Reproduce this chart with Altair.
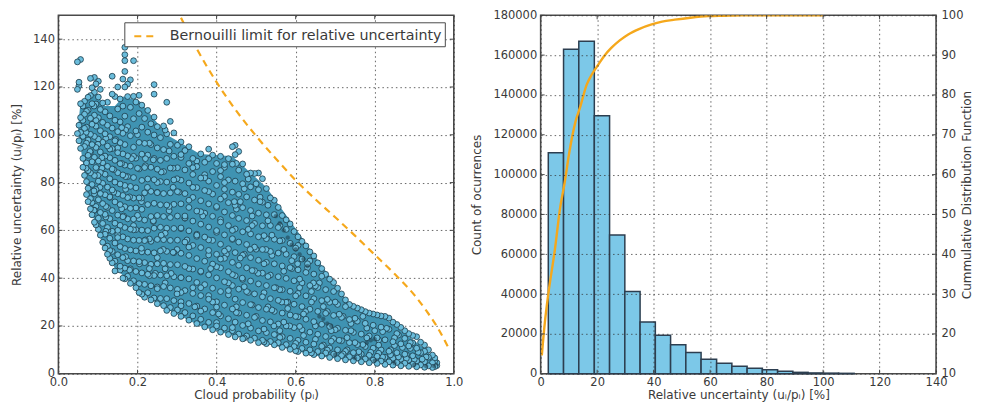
import altair as alt
import pandas as pd

# ---------- left panel ----------
env_p = [.05,.055,.063,.076,.093,.114,.143,.164,.206,.274,.358,.44,.526,.65,.737,.82,.93,.955]
env_low = [100,96,87,72,63,53,44,41,34,27,20,16,12.5,7.5,5.5,4,2.6,3]
env_high = [104,112,114,117,119,112,112,116,114,100,92,91,78,49,29,24,10,5]

cloud_columns = {
 .048:[130.5,119,100.5],
 .052:[122,120.5,104,97.5],
 .056:[131.5,113,107.2,101,94.3],
 .062:[112,106,99.3,90.1,86.4],
 .066:[114,108.6,102.7,95.1,83],
 .071:[109.8,103.2,96.5,88.2,80.4,75],
 .075:[115.7,110.3,97.8,91.4,85,77.6,72],
 .081:[123.6,116.4,106.9,100.2,92.7,84.1,73.3,69],
 .085:[119.7,113,104.4,95.9,88.7,79.2,71.6,66.5],
 .091:[124,117.8,108.2,99.3,90.6,82.9,75.3,68.4,63.4],
 .095:[121.3,112.9,103.6,94.7,86.3,77.1,70,62.3],
 .101:[122.4,115.8,107.1,98.2,89,80.6,72.8,65.1,60.4],
 .106:[119,110.6,101.7,92.8,84.2,75.4,67.5,58],
 .112:[113.3,105.2,96.9,88.3,79.7,71.2,62.9,55],
 .118:[109.6,100.4,91.1,83.5,74.9,66.7,58.4,52.6],
 .124:[113.6,104,95.3,86.8,78.1,69.6,61.2,53.4,50],
 .13:[107.9,99.2,90.4,81.6,73.8,64.9,56.7,48.3],
 .136:[124.5,117,102.8,94.2,85.7,76.9,68.3,59.6,51.2,46.4],
 .143:[116,106.1,97.5,89.3,80.2,71.9,63,54.7,47.1,43],
 .15:[120,110.8,101.3,92.5,84.1,75.3,66.4,58.2,49.8],
 .156:[115,105.4,96.7,87.9,79.4,70.8,62.1,53.2,45,43.4],
 .163:[123.3,112,100.6,92,83.2,74.6,65.7,57.3,48.6,40],
 .168:[136.6,133.5,131,126.5,120,107.8,95.9,87.3,78.8,69.9,61.2,52.4,44.2,39.7],
 .175:[121.2,116,103.4,91.2,82.5,73.7,64.8,56.4,47.3,40.8],
 .182:[123,111.5,99.6,86.9,78.4,69.2,60.5,51.8,43.9,37.8],
 .19:[131,116.1,106.7,94.8,82.1,73.5,64.7,55.9,47.2,38.9],
 .196:[113.7,101.6,90.2,77.8,69.4,60.3,51.4,42.8,36],
 .204:[116.5,108.9,96.8,85.7,73.6,64.9,55.8,46.9,37.7,34],
 .211:[112.4,103.2,91.9,80.9,68.8,60.1,51,42.2,33.3],
 .218:[106.8,96.4,86.3,75.7,64.3,55.7,46.5,37.4,32],
 .226:[110.2,101.1,91.5,81.5,70.8,59.9,50.9,41.6,33.9],
 .234:[104.6,95.9,86.4,76.3,65.8,55.4,45.8,36.8,30.9],
 .242:[121,117,107.4,99.9,90.1,81.2,71.3,60.9,50.6,41.1,31.7],
 .25:[103.4,94.5,85.6,75.9,66.2,56.2,46,36.3,29.3],
 .258:[98.8,89.3,80.4,70.7,61.3,51.4,41.3,31.5],
 .266:[103.7,93.8,84.6,75.4,65.8,56.1,46.2,36.5,28.5],
 .274:[113.6,100.4,90.1,80.2,70.6,60.9,51.2,41,31.4,26.5],
 .283:[105.6,96,86.1,75.7,65.4,55.8,45.7,35.9,27.7],
 .292:[100.8,91,81.1,70.9,60.8,50.7,40.6,30.6,25.2],
 .301:[95.6,86.2,76.2,66,55.9,45.6,35.3,26.7],
 .31:[97,90.5,81,71.1,60.7,50.4,40.2,30.1,24],
 .32:[93.4,85.3,75.4,65.2,55.1,44.9,34.8,25.6],
 .33:[95,88,79.8,69.6,59.8,49.5,39.7,29.4,22.4],
 .34:[90.1,83.4,73.8,63.9,53.7,43.8,33.6,24.2],
 .35:[86.7,77.9,68.1,58.4,48.2,38.2,28.3,21],
 .36:[92,81.9,72.4,62.6,52.8,42.9,32.7,22.8],
 .37:[88.5,76.7,67.2,57.2,47.1,37.3,27.1,19.6],
 .38:[90,80.6,71.1,61.4,51.6,41.4,31.2,21.5],
 .39:[91.5,84.6,75.2,65.9,55.8,45.9,35.8,25.6,18.4],
 .4:[88,78.8,69.6,59.9,50,40.1,30.1,20],
 .41:[91,82.5,73.1,63.5,54.2,44.3,34.4,24.2,17.4],
 .42:[86.4,77.2,67.7,58.1,48.3,38.5,28.7,19.1],
 .43:[90,81.1,71.6,62,52.3,42.7,33,23,16.4],
 .44:[95,87.7,76,66.2,56.5,46.6,36.9,27.1,18],
 .447:[95.6,91.7,80.6,70.5,60.6,50.7,41,31.2,21.6,15.4],
 .456:[93,85.2,75.1,65,55.1,45.4,35.4,25.4,16.6],
 .466:[87.8,79.5,69.5,59.4,49.6,39.5,29.8,20.2,14.6],
 .476:[83.5,74,64.1,54.1,44.3,34.4,24.5,15.8],
 .486:[84,78.2,68.3,58.5,48.6,38.8,28.9,19.1,14],
 .496:[83.8,72.7,62.9,53,43.1,33.4,23.6,14.9],
 .506:[84,77,67.2,57.3,47.5,37.6,27.7,17.9,13],
 .516:[81.6,71.8,61.9,52,42.1,32.2,22.3,14],
 .526:[77.5,66.5,56.5,46.6,36.9,27,17.2,12.6],
 .536:[73.6,62,51.2,41.3,31.4,21.7,13.5],
 .546:[72.6,66.6,56.3,46,36,26.1,16.4,12.1],
 .556:[69.6,61.2,50.5,40.6,30.7,20.8,13],
 .566:[66.2,55.8,45.1,35.2,25.4,15.5,11],
 .576:[64.4,60.4,50,39.9,29.9,20,12.2],
 .586:[62.7,54.6,44.4,34.5,24.6,14.8,10.2],
 .596:[59.5,49,38.9,29.1,19.3,11.4],
 .606:[57.3,53.7,43.5,33.6,23.8,14,9.3],
 .616:[55.4,48,38,28.1,18.4,10.6],
 .626:[53.5,42.4,32.6,22.8,13.2,8.6],
 .636:[51,47.2,36.9,27,17.4,10],
 .646:[49.3,41.7,31.4,21.8,12.4,8],
 .656:[46.4,36.1,26.1,16.5,9.3],
 .666:[44,40.8,30.6,20.7,11.5,7.4],
 .676:[41.6,35.2,25.3,15.6,8.7],
 .686:[39.6,29.9,19.8,10.8,6.8],
 .696:[38.2,34.4,24.4,14.7,8.2],
 .706:[35.8,29,19,10,6.3],
 .716:[33.4,23.6,13.8,7.6],
 .726:[30.9,28.1,18.2,9.4,5.8],
 .736:[29,22.7,13,7.1],
 .746:[28.2,17.3,8.8,5.4],
 .756:[27.5,22,12.2,6.6],
 .766:[26.8,16.6,8.2,5],
 .776:[26,21.1,11.4,6.2],
 .786:[25.4,15.8,7.7,4.6],
 .796:[25,20.3,10.7,5.7],
 .806:[24.6,15,7.3,4.3],
 .816:[24.2,19.5,10,5.3],
 .826:[24,14.2,6.9,3.9],
 .836:[23.3,18.6,9.4,5],
 .846:[21.6,13.4,6.5,3.6],
 .856:[20.6,16.8,8.8,4.7],
 .866:[19.4,12.5,6.1,3.3],
 .876:[18,14.8,8.2,4.4],
 .886:[16.8,11.6,5.7,3.1],
 .896:[16,12.9,7.5,4],
 .906:[15.5,10.7,5.3,2.9],
 .916:[13.2,8.8,3.7],
 .926:[12,9.4,5,2.7],
 .936:[10,6.9,3.3],
 .946:[7.8,4.6,2.6],
 .952:[6.6,5.4,3.6,3],
 .957:[4.6,3.4],
}
extra_p = [.09,.1,.11,.12,.13,.14,.15,.16,.17,.18,.19,.2,.21,.22,.22,.23,.24,.25,.26,.27,.28,.29,.3,.31,.32,.33,.34,.35,.36,.37,.38,.39,.4,.41,.42,.43,.44,.45,.46,.47,.48,.49,.5,.51,.52,.53,.54,.55,.56,.57,.58,.59,.6,.61,.62,.63,.64,.65,.66,.67,.68,.69,.7,.71,.72,.73,.74,.75,.76,.77,.78,.79,.8,.81,.82,.83,.84,.85,.86,.87,.88,.89,.9,.91,.93,
           .095,.105,.125,.145,.165,.185,.205,.225,.245,.265,.285,.305,.325,.345,.365,.385,.405,.425,.445,.465,.485,.505,.525,.545,.565,.585,.605,.625,.645,
           .07,.12,.16,.2,.23,.27, .08,.11,.15,.19,.24,.28,.31,.35,.38,.42, .07,.1,.14,.17,.22,.26,.3,.34,.37,.41,.45,.48,.5,
           .09,.13,.17,.21,.25,.29,.33,.38,.42,.47,.51,.53, .09,.12,.16,.2,.24,.28,.32,.36,.41,.45,.49,.53,.56,
           .12,.15,.19,.23,.27,.31,.35,.4,.44,.48,.52,.56,.6, .13,.17,.21,.25,.29,.33,.38,.42,.46,.5,.54,.59,.63,
           .18,.23,.27,.31,.36,.4,.44,.49,.53,.57,.61,.65, .25,.3,.34,.38,.43,.47,.52,.56,.6,.64,.68,
           .31,.36,.4,.45,.49,.54,.58,.62,.67,.71,.75, .4,.44,.48,.52,.57,.61,.65,.7,.74,.78,.82,.86,
           .47,.52,.56,.6,.65,.69,.73,.77,.81,.85,.89, .6,.64,.68,.72,.76,.81,.84,.88,.92]
extra_u = [112,96,86,70,94,76,60,88,102,74,62,86,72,90,56,44,64,80,58,38,70,86,52,34,66,44,78,58,36,82,56,30,70,48,80,38,60,28,72,50,34,62,24,72,46,28,58,36,18,52,30,44,24,36,16,46,30,20,38,12,26,18,30,14,24,10,18,13,8,24,15,9,18,12,7,19,10,15,7,11,8,13,6,9,7,
           106,78,60,98,66,90,46,78,42,52,42,76,56,28,66,44,25,50,72,40,52,42,52,20,30,20,46,26,38,
           101,98.5,103,100,96.5,102, 93,90.4,94.5,91,89.5,93.2,91.7,89,94,87.5, 86,83,85.4,82.5,87,84.4,81.6,86.2,83.3,85,88,81.5,79.5,
           76.5,74,77.2,73.5,75.8,78,72.6,76.2,74.3,77.4,73.9,70.5, 68.4,65.6,69,66.3,63.7,68.2,65.1,67.8,64.5,68.9,66,64,62,
           59.6,57,60.2,56.4,58.8,61,57.5,59.2,56.2,60.4,57.8,55.6,52.6, 51.6,49,52.5,48.6,50.8,53,49.7,51.3,48.4,52.1,49.5,47.3,44.4,
           43.4,41,43.9,40.2,42.6,44.8,41.5,43.2,40.7,42.9,39.6,36.7, 35.6,33.4,36,32.7,34.8,36.4,33.9,35.2,32.6,34.4,31.1,
           28.4,26.2,27.9,25.6,28.8,26.7,27.3,25,28.1,24.9,23.2, 21.4,19.3,20.9,18.7,21.6,19.8,20.3,18.4,21,19.1,17.6,16.2,
           14.9,13.3,15.2,12.7,14.4,13.6,15.1,12.2,14.1,11.8,10.6, 9.6,8.7,9.9,8.3,9.2,8.6,7.9,6.4,6.1]
streak_p = [.55,.56,.57,.58,.59,.6,.61,.62,.63,.66,.67,.68,.69,.78,.79,.8,.7,.75,.8,.85,.9,.93,.95]
streak_u = [66,63,60,57,54,52,50,48,45,24,23,21,20,13,14,14.5,8,6.5,5.5,4.5,3.8,3.2,3.2]

bern_p = [.31,.35,.40,.45,.50,.55,.60,.65,.70,.75,.80,.85,.90,.93,.96,.99]
bern_u = [149,136,122,110,99.5,90,81,73,65.5,57.8,49.8,41.8,33,26.5,19,9.7]
legend_label = "Bernouilli limit for relative uncertainty"

p_ticks = [0, .2, .4, .6, .8, 1.0]
u_ticks = [0, 20, 40, 60, 80, 100, 120, 140]

# ---------- right panel ----------
bin_left = [2.7,8.1,13.5,19.0,24.4,29.8,35.2,40.6,46.0,51.4,56.8,62.3,67.7,73.1,78.5,83.9,89.3,94.7,100.1,105.5]
bin_right = [8.1,13.5,19.0,24.4,29.8,35.2,40.6,46.0,51.4,56.8,62.3,67.7,73.1,78.5,83.9,89.3,94.7,100.1,105.5,111.0]
bin_count = [111000,163000,167000,129500,69700,41300,26000,19300,14500,10700,7300,5300,3700,2800,2000,1200,700,400,300,200]
cdf_x = [0.4,1.5,2.7,5,6.9,8.5,10,12.4,14,16.3,18,20.4,22.5,25,28,31,35,39.3,43,47.5,53,59.3,65,71,100]
cdf_y = [14.6,23,30,41,51.7,58,65,73.5,77,82.6,85,87.6,89.8,91.8,93.7,95.2,96.6,97.7,98.4,98.9,99.4,99.8,99.9,100,100]
count_ticks = [0,20000,40000,60000,80000,100000,120000,140000,160000,180000]
pct_ticks = [10,20,30,40,50,60,70,80,90,100]
x2_ticks = [0,20,40,60,80,100,120,140]

W, H = 396, 359
INK = "#3a3a3a"
FRAME = "#4a4a4a"
TICK = 4

cloud = pd.DataFrame([(p, u) for p, us in cloud_columns.items() for u in us] + list(zip(extra_p, extra_u)),
                     columns=["p", "u"]).sort_values("p", ascending=False)
streak = pd.DataFrame({"p": streak_p, "u": streak_u})
env = pd.DataFrame({"p": env_p, "lo": env_low, "hi": env_high})
bern = pd.DataFrame({"p": bern_p, "u": bern_u, "s": legend_label})
xp = alt.Scale(domain=[0, 1], nice=False, zero=False, padding=0)
yu = alt.Scale(domain=[0, 150], nice=False, zero=False, padding=0)
xu = alt.Scale(domain=[0, 140], nice=False, zero=False, padding=0)
yn = alt.Scale(domain=[0, 180000], nice=False, zero=False, padding=0)
yc = alt.Scale(domain=[10, 100], nice=False, zero=False, padding=0)

ax_p = alt.Axis(values=p_ticks, format=".1f", title="Cloud probability (pᵢ)", grid=True, ticks=False, labelPadding=3, titlePadding=1, labelFlush=False)
ax_u = alt.Axis(values=u_ticks, title="Relative uncertainty (uᵢ/pᵢ) [%]", grid=True, ticks=False, titlePadding=9, labelPadding=4, labelFlush=False)
ax_x2 = alt.Axis(values=x2_ticks, title="Relative uncertainty (uᵢ/pᵢ) [%]", grid=True, ticks=False, zindex=1, labelPadding=3, titlePadding=1, labelFlush=False)

def rules_x(values, scale, axis):
    d = pd.DataFrame({"v": values})
    b = alt.Chart(d).mark_rule(color=FRAME, strokeWidth=1)
    return [b.encode(x=alt.X("v:Q", scale=scale, axis=axis), y=alt.value(H), y2=alt.value(H - TICK)),
            b.encode(x=alt.X("v:Q", scale=scale, axis=axis), y=alt.value(0), y2=alt.value(TICK))]

def rules_y(values, scale, axis, side="both"):
    d = pd.DataFrame({"v": values})
    b = alt.Chart(d).mark_rule(color=FRAME, strokeWidth=1)
    out = []
    if side in ("both", "left"):
        out.append(b.encode(y=alt.Y("v:Q", scale=scale, axis=axis), x=alt.value(0), x2=alt.value(TICK)))
    if side in ("both", "right"):
        out.append(b.encode(y=alt.Y("v:Q", scale=scale, axis=axis), x=alt.value(W), x2=alt.value(W - TICK)))
    return out

base_area = alt.Chart(env).mark_area(color="#3f93b2", interpolate="linear").encode(
    x=alt.X("p:Q", scale=xp, axis=ax_p),
    y=alt.Y("lo:Q", scale=yu, axis=ax_u),
    y2="hi:Q",
)
points = alt.Chart(cloud).mark_point(
    shape="circle", filled=True, size=34, fill="#6abcdb", stroke="#1b3a48", strokeWidth=0.8, opacity=1
).encode(x=alt.X("p:Q", scale=xp, axis=ax_p), y=alt.Y("u:Q", scale=yu, axis=ax_u))
dark = alt.Chart(streak).mark_point(
    shape="circle", filled=True, size=14, fill="#1f3f4d", stroke="#17323f", strokeWidth=0.6, opacity=0.55
).encode(x=alt.X("p:Q", scale=xp, axis=ax_p), y=alt.Y("u:Q", scale=yu, axis=ax_u))
bern_line = alt.Chart(bern).mark_line(strokeWidth=2.2, strokeDash=[7, 5], clip=True, interpolate="monotone").encode(
    x=alt.X("p:Q", scale=xp, axis=ax_p),
    y=alt.Y("u:Q", scale=yu, axis=ax_u),
    color=alt.Color("s:N", scale=alt.Scale(domain=[legend_label], range=["#f5a81c"]),
        legend=alt.Legend(title=None, orient="none", legendX=66, legendY=7, fillColor="white",
                          strokeColor=FRAME, padding=2.5, labelFontSize=14.3, labelColor=INK,
                          symbolType="stroke", symbolDash=[7, 5], symbolStrokeWidth=2.2, symbolSize=400,
                          symbolOffset=6, labelOffset=14, labelLimit=400, cornerRadius=0)),
)
left = alt.layer(base_area, points, dark, bern_line,
                 *rules_x(p_ticks, xp, ax_p), *rules_y(u_ticks, yu, ax_u)).properties(width=W, height=H)

hist = pd.DataFrame({"a": bin_left, "b": bin_right, "n": bin_count})
cdf = pd.DataFrame({"x": cdf_x, "y": cdf_y})

bars = alt.Chart(hist).mark_bar(fill="#7cc8e8", stroke="#2c3e50", strokeWidth=1.5, opacity=1).encode(
    x=alt.X("a:Q", scale=xu, axis=ax_x2),
    x2="b:Q",
    y=alt.Y("n:Q", scale=yn,
            axis=alt.Axis(values=count_ticks, format="d", title="Count of ocurrences", grid=True, ticks=False,
                          zindex=1, titlePadding=9, labelPadding=4, labelFlush=False)),
    y2=alt.datum(0),
)
cdf_line = alt.Chart(cdf).mark_line(color="#f5a81c", strokeWidth=2.4, interpolate="monotone", clip=True).encode(
    x=alt.X("x:Q", scale=xu, axis=ax_x2),
    y=alt.Y("y:Q", scale=yc,
            axis=alt.Axis(values=pct_ticks, orient="right", title="Cummulative Distribution Function",
                          grid=False, ticks=False, titleAngle=270, titleX=30, titleBaseline="middle",
                          labelPadding=5, labelFlush=False)),
)
right = alt.layer(bars, cdf_line,
                  *rules_x(x2_ticks, xu, ax_x2), *rules_y(count_ticks, yn, None, "left"), *rules_y(pct_ticks, yc, None, "right")
                  ).resolve_scale(y="independent").properties(width=W, height=H)

chart = alt.hconcat(left, right, spacing=6).properties(
    padding={"left": 1.5, "top": 0, "right": 0, "bottom": 0}, background="white"
).configure_view(stroke=FRAME, strokeWidth=1.6).configure_axis(
    labelFont="DejaVu Sans", titleFont="DejaVu Sans", labelFontSize=11.5, titleFontSize=12,
    labelColor=INK, titleColor=INK, titleFontWeight="normal", domain=False,
    gridColor="#333333", gridDash=[1.5, 3], gridOpacity=0.75, gridWidth=1, labelPadding=5,
    labelOverlap=False,
).configure_legend(labelFont="DejaVu Sans")

chart.save("out.html", embed_options={"renderer": "svg", "actions": False})
